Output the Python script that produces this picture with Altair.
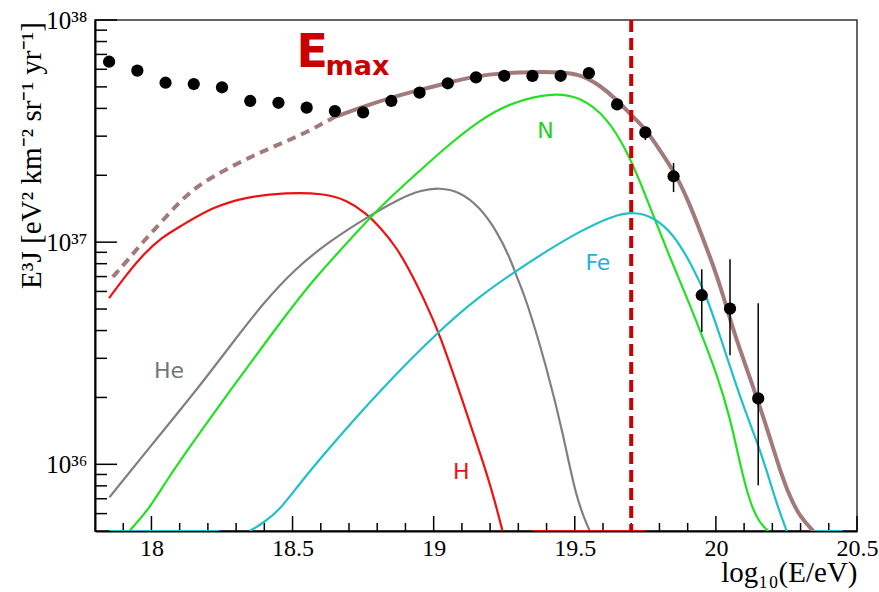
import altair as alt
import pandas as pd

# ---------------- data ----------------
# measured points (log10 E bin centres) and E^3 J
pt_x = [17.85, 17.95, 18.05, 18.15, 18.25, 18.35, 18.45, 18.55, 18.65, 18.75, 18.85, 18.95,
        19.05, 19.15, 19.25, 19.35, 19.45, 19.55, 19.65, 19.75, 19.85, 19.95, 20.05, 20.15]
pt_y = [6.49e37, 5.92e37, 5.22e37, 5.15e37, 4.98e37, 4.32e37, 4.24e37, 4.03e37, 3.89e37, 3.84e37,
        4.32e37, 4.71e37, 5.19e37, 5.52e37, 5.61e37, 5.60e37, 5.61e37, 5.77e37, 4.17e37, 3.12e37,
        1.98e37, 5.77e36, 5.02e36, 1.98e36]

err_x = [19.75, 19.85, 19.95, 20.05, 20.15]
err_lo = [2.88e37, 1.68e37, 3.94e36, 3.10e36, 8.04e35]
err_hi = [3.30e37, 2.27e37, 7.55e36, 8.38e36, 5.31e36]

# model components
h_x = [17.85, 17.915, 17.975, 18.036, 18.099, 18.217, 18.336, 18.478, 18.608, 18.691, 18.761,
       18.809, 18.868, 18.927, 18.967, 19.019, 19.102, 19.181, 19.216, 19.244]
h_y = [5.60e36, 7.24e36, 8.91e36, 1.05e37, 1.17e37, 1.44e37, 1.60e37, 1.67e37, 1.66e37, 1.55e37,
       1.35e37, 1.17e37, 9.53e36, 6.98e36, 5.48e36, 3.94e36, 1.94e36, 9.73e35, 6.89e35, 5.01e35]

he_x = [17.851, 17.993, 18.17, 18.277, 18.395, 18.513, 18.631, 18.779, 18.88, 18.951, 19.021,
        19.092, 19.163, 19.222, 19.269, 19.299, 19.329, 19.4, 19.459, 19.506, 19.553]
he_y = [7.10e35, 1.19e36, 2.24e36, 3.39e36, 5.31e36, 7.67e36, 1.01e37, 1.33e37, 1.57e37, 1.71e37,
        1.76e37, 1.69e37, 1.44e37, 1.13e37, 8.59e36, 6.74e36, 5.48e36, 2.74e36, 1.37e36, 6.89e35,
        5.01e35]

n_x = [17.922, 17.996, 18.053, 18.17, 18.287, 18.336, 18.454, 18.572, 18.691, 18.809, 18.927,
       19.045, 19.163, 19.281, 19.423, 19.518, 19.613, 19.683, 19.73, 19.826, 19.897, 19.943,
       20.003, 20.05, 20.085, 20.121, 20.156, 20.186]
n_y = [5.01e35, 6.40e35, 8.47e35, 1.38e36, 2.22e36, 2.69e36, 4.31e36, 6.74e36, 9.86e36, 1.44e37,
       1.97e37, 2.69e37, 3.55e37, 4.29e37, 4.71e37, 4.52e37, 3.66e37, 2.59e37, 1.90e37, 9.20e36,
       5.65e36, 4.02e36, 2.56e36, 1.63e36, 1.01e36, 6.65e35, 5.41e35, 5.01e35]

fe_x = [18.348, 18.394, 18.454, 18.525, 18.631, 18.809, 19.021, 19.163, 19.282, 19.4, 19.518,
        19.636, 19.713, 19.777, 19.848, 19.919, 19.968, 20.008, 20.085, 20.144, 20.18, 20.215,
        20.251]
fe_y = [5.01e35, 5.42e35, 6.21e35, 8.20e35, 1.19e36, 2.15e36, 4.02e36, 5.71e36, 7.28e36, 9.12e36,
        1.12e37, 1.32e37, 1.37e37, 1.30e37, 1.10e37, 7.71e36, 5.65e36, 4.02e36, 2.01e36, 1.28e36,
        9.40e35, 6.65e35, 5.01e35]

# flat pieces of the H and Fe curves lying on the lower edge of the frame
floor_series = ["H", "Fe", "Fe"]
floor_x0 = [19.35, 17.85, 20.344]
floor_x1 = [19.75, 18.24, 20.45]
floor_y = 5.01e35

tot_x = [18.649, 18.748, 18.844, 18.95, 19.046, 19.152, 19.245, 19.351, 19.447, 19.518, 19.589,
         19.649, 19.706, 19.748, 19.802, 19.855, 19.901, 19.947, 19.993, 20.028, 20.061, 20.132,
         20.18, 20.227, 20.262, 20.298, 20.345]
tot_y = [3.66e37, 4.06e37, 4.46e37, 4.84e37, 5.20e37, 5.60e37, 5.77e37, 5.83e37, 5.83e37, 5.71e37,
         5.09e37, 4.37e37, 3.66e37, 3.27e37, 2.59e37, 2.05e37, 1.55e37, 1.10e37, 7.71e36, 5.65e36,
         4.02e36, 2.23e36, 1.47e36, 9.40e35, 7.13e35, 5.80e35, 5.01e35]

dash_x = [17.863, 17.916, 17.975, 18.035, 18.105, 18.176, 18.271, 18.365, 18.46, 18.554, 18.649]
dash_y = [6.98e36, 8.30e36, 1.02e37, 1.23e37, 1.55e37, 1.84e37, 2.15e37, 2.47e37, 2.78e37,
          3.14e37, 3.66e37]

emax_x = [19.7]

series_names = ["H", "He", "N", "Fe"]
series_colors = ["#ee1111", "#808080", "#22e022", "#1fc0c8"]

label_text = ["H", "He", "N", "Fe"]
label_x = [19.098, 18.062, 19.396, 19.582]
label_y = [9.2e35, 2.62e36, 3.16e37, 8.04e36]
label_colors = ["#ee1111", "#6f777c", "#22d022", "#1fb0e0"]

x_tick_major = [18, 18.5, 19, 19.5, 20, 20.5]
x_tick_minor = [17.9, 18.1, 18.2, 18.3, 18.4, 18.6, 18.7, 18.8, 18.9, 19.1, 19.2, 19.3, 19.4,
                19.6, 19.7, 19.8, 19.9, 20.1, 20.2, 20.3, 20.4]
y_tick_major = [1e36, 1e37, 1e38]
y_tick_labels = ["10³⁶", "10³⁷", "10³⁸"]
y_tick_minor = [6e35, 7e35, 8e35, 9e35, 2e36, 3e36, 4e36, 5e36, 6e36, 7e36, 8e36, 9e36,
                2e37, 3e37, 4e37, 5e37, 6e37, 7e37, 8e37, 9e37]

x_domain = [17.8, 20.5]
y_domain = [5.01e35, 1e38]

# ---------------- frames ----------------
frames = [
    pd.DataFrame({"x": xs, "y": ys, "s": name, "g": name, "o": range(len(xs))})
    for name, xs, ys in zip(series_names, [h_x, he_x, n_x, fe_x], [h_y, he_y, n_y, fe_y])
]
for i, (name, a, b) in enumerate(zip(floor_series, floor_x0, floor_x1)):
    frames.append(pd.DataFrame({"x": [a, b], "y": [floor_y, floor_y], "s": name,
                                "g": f"{name}_floor{i}", "o": [0, 1]}))
comp = pd.concat(frames)
tot_df = pd.DataFrame({"x": tot_x, "y": tot_y})
dash_df = pd.DataFrame({"x": dash_x, "y": dash_y})
pts_df = pd.DataFrame({"x": pt_x, "y": pt_y})
err_df = pd.DataFrame({"x": err_x, "y": err_lo, "y2": err_hi})
lab_df = pd.DataFrame({"x": label_x, "y": label_y, "t": label_text, "c": label_colors})
emax_df = pd.DataFrame({"x": emax_x})
xmaj_df = pd.DataFrame({"x": x_tick_major})
xmin_df = pd.DataFrame({"x": x_tick_minor})
ymaj_df = pd.DataFrame({"y": y_tick_major})
ymin_df = pd.DataFrame({"y": y_tick_minor})
E_df = pd.DataFrame({"x": [18.514], "y": [6.17e37], "t": ["E"]})
max_df = pd.DataFrame({"x": [18.617], "y": [5.65e37], "t": ["max"]})

W, H = 762, 511
SERIF = "Liberation Serif, Times New Roman, serif"
CURVE = "basis"

xscale = alt.Scale(domain=x_domain, nice=False, zero=False)
yscale = alt.Scale(type="log", domain=y_domain, nice=False)

label_expr = " : ".join(
    f"datum.value > {v*0.5:g} ? '{t}'" for v, t in reversed(list(zip(y_tick_major, y_tick_labels)))
) + " : ''"

xaxis = alt.Axis(values=x_tick_major, format="~g", ticks=False, grid=False,
                 domainColor="black", domainWidth=2, labelFont=SERIF,
                 labelFontSize=24, labelColor="black", labelPadding=5, labelFlush=False,
                 labelOverlap=False,
                 title="log₁₀(E/eV)", titleFont=SERIF, titleFontSize=29,
                 titleFontWeight="normal", titleColor="black", titleX=W, titleY=50,
                 titleAlign="right", titleBaseline="alphabetic")
yaxis = alt.Axis(values=y_tick_major, labelExpr=label_expr, ticks=False, grid=False,
                 domainColor="black", domainWidth=2, labelFont=SERIF,
                 labelFontSize=25, labelColor="black", labelPadding=8, labelFlush=False,
                 title="E³J [eV² km⁻² sr⁻¹ yr⁻¹]", titleFont=SERIF,
                 titleFontSize=29, titleFontWeight="normal", titleColor="black",
                 titleX=-55, titleY=135, titleAngle=270, titleAlign="center",
                 titleBaseline="alphabetic")


def X(field="x"):
    return alt.X(field, type="quantitative", scale=xscale, axis=xaxis)


def Y(field="y"):
    return alt.Y(field, type="quantitative", scale=yscale, axis=yaxis)


comp_layer = alt.Chart(comp).mark_line(strokeWidth=2.2, clip=True, interpolate=CURVE).encode(
    x=X(), y=Y(), order="o:Q", detail="g:N",
    color=alt.Color("s:N", scale=alt.Scale(domain=series_names, range=series_colors), legend=None),
)
dash_layer = alt.Chart(dash_df).mark_line(strokeWidth=4, color="#a27a7a", strokeDash=[9, 6],
                                          clip=True, interpolate=CURVE).encode(x=X(), y=Y())
tot_layer = alt.Chart(tot_df).mark_line(strokeWidth=4, color="#a27a7a", clip=True,
                                        interpolate=CURVE).encode(x=X(), y=Y())
emax_layer = alt.Chart(emax_df).mark_rule(strokeWidth=4, color="#c80000",
                                          strokeDash=[12, 6]).encode(x=X())
err_layer = alt.Chart(err_df).mark_rule(strokeWidth=1.5, color="black", clip=True).encode(
    x=X(), y=Y(), y2="y2")
pts_layer = alt.Chart(pts_df).mark_circle(size=150, color="black", opacity=1).encode(
    x=X(), y=Y())
lab_layer = alt.Chart(lab_df).mark_text(font="DejaVu Sans", fontSize=22, align="center",
                                        baseline="middle").encode(
    x=X(), y=Y(), text="t:N", color=alt.Color("c:N", scale=None))
E_layer = alt.Chart(E_df).mark_text(font="DejaVu Sans", fontSize=46, fontWeight="bold",
                                    color="#c80000", align="left", baseline="alphabetic").encode(
    x=X(), y=Y(), text="t:N")
max_layer = alt.Chart(max_df).mark_text(font="DejaVu Sans", fontSize=27, fontWeight="bold",
                                        color="#c80000", align="left",
                                        baseline="alphabetic").encode(x=X(), y=Y(), text="t:N")
xmaj_layer = alt.Chart(xmaj_df).mark_rule(color="black", strokeWidth=1.5).encode(
    x=X(), y=alt.value(H), y2=alt.value(H - 15))
xmin_layer = alt.Chart(xmin_df).mark_rule(color="black", strokeWidth=1.5).encode(
    x=X(), y=alt.value(H), y2=alt.value(H - 8))
ymaj_layer = alt.Chart(ymaj_df).mark_rule(color="black", strokeWidth=1.5).encode(
    y=Y(), x=alt.value(0), x2=alt.value(22))
ymin_layer = alt.Chart(ymin_df).mark_rule(color="black", strokeWidth=1.5).encode(
    y=Y(), x=alt.value(0), x2=alt.value(12))

chart = alt.layer(
    xmaj_layer, xmin_layer, ymaj_layer, ymin_layer,
    comp_layer, dash_layer, tot_layer, emax_layer, err_layer, pts_layer,
    lab_layer, E_layer, max_layer,
).properties(
    width=W, height=H,
    autosize=alt.AutoSizeParams(type="none"),
    padding={"left": 95, "top": 20, "right": 22, "bottom": 61},
    background="white",
).configure_view(stroke="#333333", strokeWidth=1.5)

chart.save("out.html", embed_options={"renderer": "svg", "actions": False})
